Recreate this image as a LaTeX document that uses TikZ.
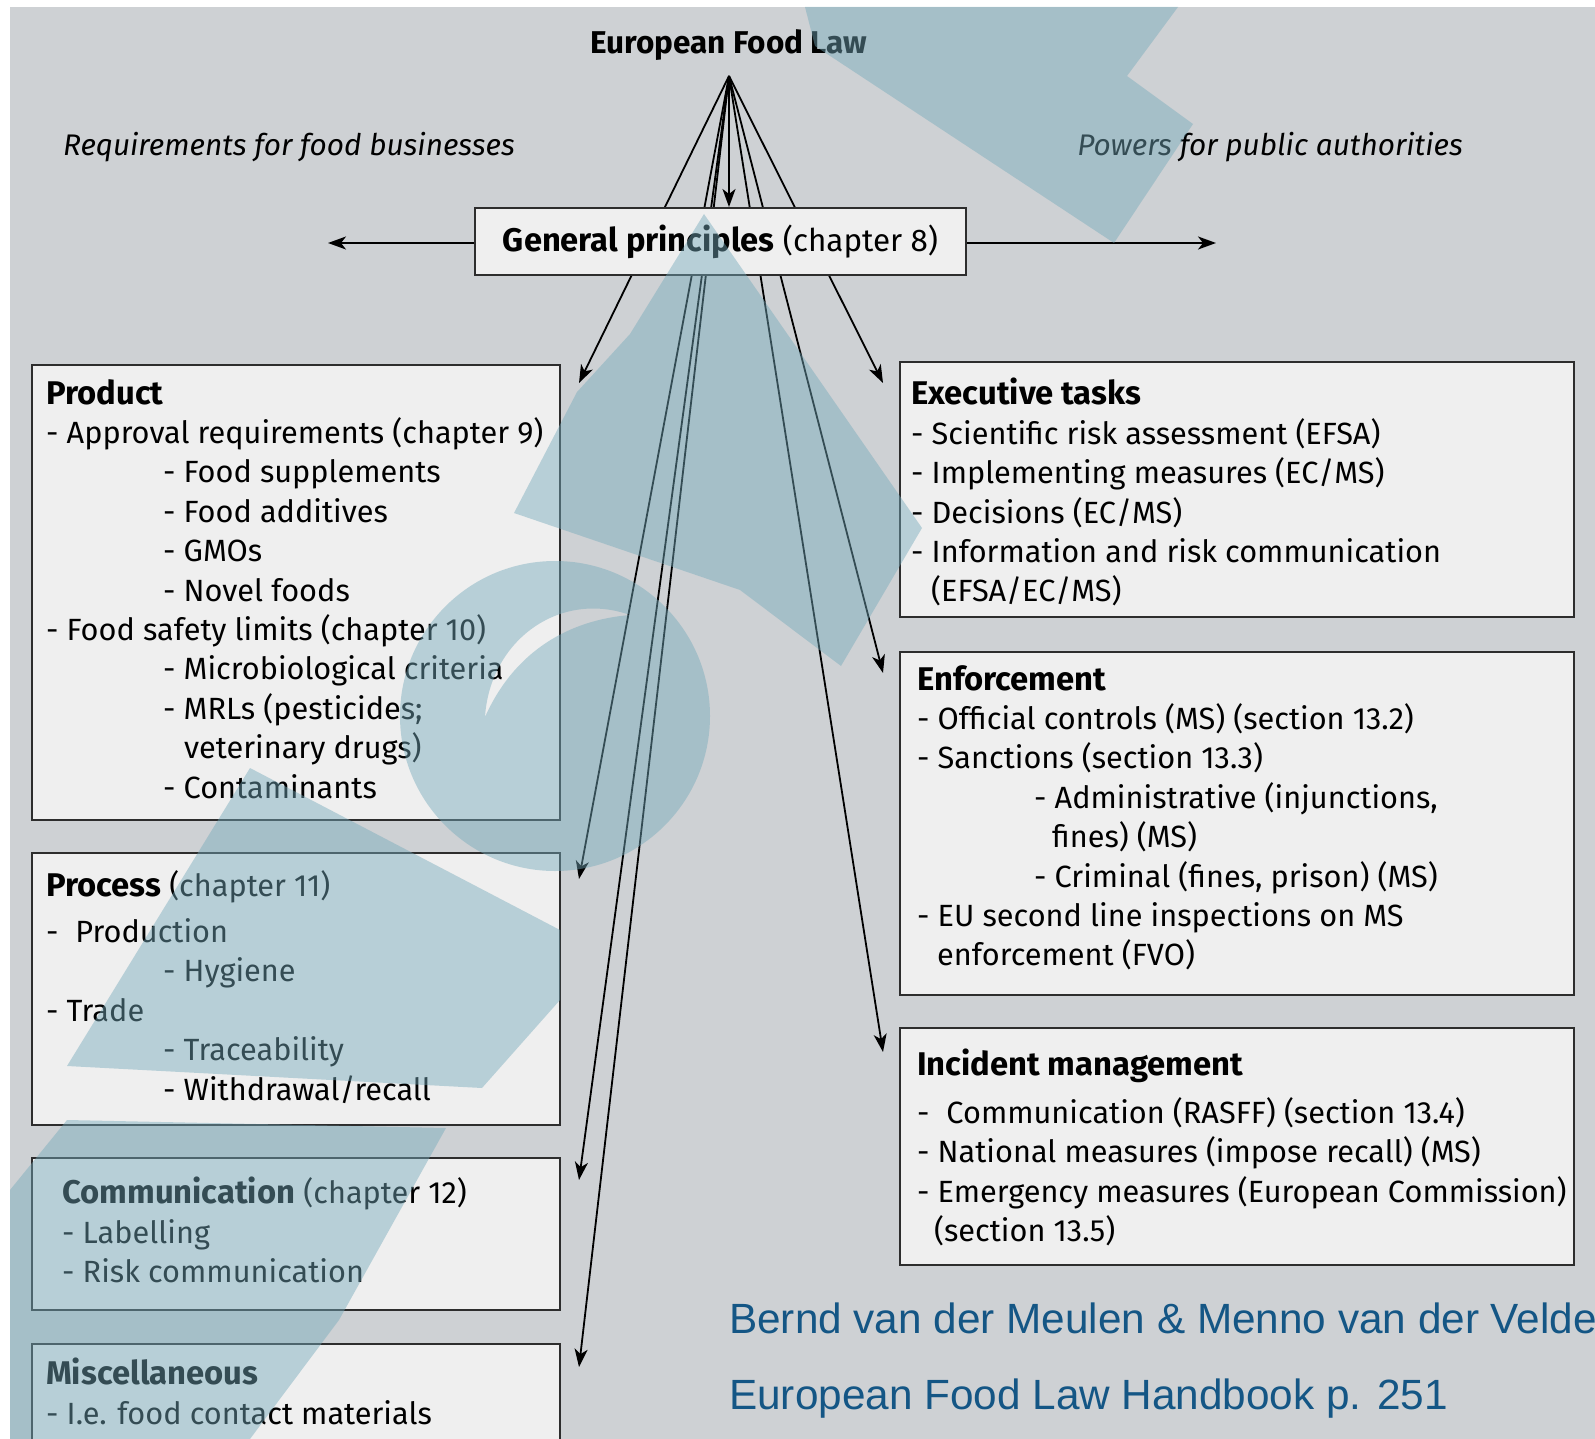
\documentclass[tikz,border=0pt]{standalone}
\usepackage{fontspec}
\setmainfont{Fira Sans}
\newfontfamily\footfont{Liberation Sans}
\usetikzlibrary{arrows.meta,calc}
\pgfdeclarelayer{bg}
\pgfdeclarelayer{lines}
\pgfsetlayers{bg,lines,main}
\definecolor{pagegray}{RGB}{206,209,212}
\definecolor{boxfill}{RGB}{239,239,239}
\definecolor{boxline}{RGB}{45,45,45}
\definecolor{footblue}{RGB}{20,86,133}
\definecolor{wm}{RGB}{117,170,187}
\newcommand\hb[1]{{\fontsize{32.8}{39.4}\selectfont\bfseries #1}}
\tikzset{
  panel/.style={draw=boxline, line width=2pt, fill=boxfill, anchor=north west, inner sep=0pt},
  body/.style={anchor=north west, align=left, inner sep=0pt, font=\fontsize{30.7}{39.4}\selectfont},
  conn/.style={line width=1.8pt, -{Stealth[length=18pt,width=13pt,inset=5pt]}},
  side/.style={font=\fontsize{29.8}{36}\selectfont\itshape, inner sep=0pt},
  foot/.style={font=\footfont\fontsize{42.3}{50}\selectfont, text=footblue, anchor=base west, inner sep=0pt},
}
\begin{document}
\begin{tikzpicture}[x=1pt,y=-1pt]
\useasboundingbox (0,0) rectangle (1595,1439);
\clip (0,0) rectangle (1595,1439);
\begin{pgfonlayer}{bg}
  \fill[white] (0,0) rectangle (1595,1439);
  \fill[pagegray] (10,7) rectangle (1595,1439);
\end{pgfonlayer}

% title and side labels
\node[font=\bfseries\fontsize{31.5}{36}\selectfont, inner sep=0pt] (title) at (729,45) {European Food Law};
\coordinate (apex) at (729,76);
\node[side] (req) at (289,147) {Requirements for food businesses};
\node[side] (pow) at (1270,147) {Powers for public authorities};

% general principles
\node[draw=boxline, line width=2pt, fill=boxfill, minimum width=491pt, minimum height=67pt, inner sep=0pt,
      font=\fontsize{31.4}{36}\selectfont] (gp) at (720.5,241.5) {{\fontsize{32.7}{36}\selectfont\bfseries General principles} (chapter 8)};
\coordinate (gpL) at (328,243);
\coordinate (gpR) at (1216,243);

% boxes
\node[panel, minimum width=528pt, minimum height=455pt] (product) at (31,364) {};
\node[panel, minimum width=528pt, minimum height=272pt] (process) at (31,852) {};
\node[panel, minimum width=528pt, minimum height=152pt] (comm) at (31,1157) {};
\node[panel, minimum width=528pt, minimum height=140pt] (misc) at (31,1343) {};
\node[panel, minimum width=674pt, minimum height=255pt] (exec) at (899,361) {};
\node[panel, minimum width=674pt, minimum height=343pt] (enf) at (899,651) {};
\node[panel, minimum width=674pt, minimum height=237pt] (inc) at (899,1027) {};

% box texts
\node[body] (productT) at (46,379) {\hb{Product}\\
- Approval requirements (chapter 9)\\
\hspace*{117pt}- Food supplements\\
\hspace*{117pt}- Food additives\\
\hspace*{117pt}- GMOs\\
\hspace*{117pt}- Novel foods\\
- Food safety limits (chapter 10)\\
\hspace*{117pt}- Microbiological criteria\\
\hspace*{117pt}- MRLs (pesticides;\\
\hspace*{138pt}veterinary drugs)\\
\hspace*{117pt}- Contaminants};

\node[body] (processT) at (46,870) {\hb{Process} (chapter 11)\\[7pt]
-\hspace{0.55em}Production\\
\hspace*{117pt}- Hygiene\\
- Trade\\
\hspace*{117pt}- Traceability\\
\hspace*{117pt}- Withdrawal/recall};

\node[body] (commT) at (62,1177) {\hb{Communication} (chapter 12)\\
- Labelling\\
- Risk communication};

\node[body] (miscT) at (46,1358) {\hb{Miscellaneous}\\
- I.e. food contact materials};

\node[body] (execT) at (911,378) {\hb{Executive tasks}\\
- Scientific risk assessment (EFSA)\\
- Implementing measures (EC/MS)\\
- Decisions (EC/MS)\\
- Information and risk communication\\
\hspace*{20pt}(EFSA/EC/MS)};

\node[body] (enfT) at (917,665) {\hb{Enforcement}\\
- Official controls (MS) (section 13.2)\\
- Sanctions (section 13.3)\\
\hspace*{117pt}- Administrative (injunctions,\\
\hspace*{135pt}fines) (MS)\\
\hspace*{117pt}- Criminal (fines, prison) (MS)\\
- EU second line inspections on MS\\
\hspace*{20pt}enforcement (FVO)};

\node[body] (incT) at (917,1049) {\hb{Incident management}\\[8pt]
-\hspace{0.55em}Communication (RASFF) (section 13.4)\\
- National measures (impose recall) (MS)\\
- Emergency measures (European Commission)\\
\hspace*{17pt}(section 13.5)};

% footer
\node[foot] (foot1) at (729,1333) {Bernd van der Meulen \& Menno van der Velde};
\node[foot] (foot2) at (729,1409) {European Food Law Handbook p. 251};

% arrow tips
\coordinate (tProd) at ([shift={(18,19)}]product.north east);
\coordinate (tProc) at ([shift={(18,27)}]process.north east);
\coordinate (tComm) at ([shift={(18,23)}]comm.north east);
\coordinate (tMisc) at ([shift={(18,24)}]misc.north east);
\coordinate (tExec) at ([shift={(-16,22)}]exec.north west);
\coordinate (tEnf) at ([shift={(-16,22)}]enf.north west);
\coordinate (tInc) at ([shift={(-16,25)}]inc.north west);

\begin{pgfonlayer}{lines}
  \draw[conn] (apex) -- (apex |- gp.north);
  \draw[conn] (apex) -- (tProd);
  \draw[conn] (apex) -- (tProc);
  \draw[conn] (apex) -- (tComm);
  \draw[conn] (apex) -- (tMisc);
  \draw[conn] (apex) -- (tExec);
  \draw[conn] (apex) -- (tEnf);
  \draw[conn] (apex) -- (tInc);
  \draw[conn] (gp.west |- gpL) -- (gpL);
  \draw[conn] (gp.east |- gpR) -- (gpR);
\end{pgfonlayer}

% translucent watermark
\begin{scope}[transparency group, opacity=0.45]
  \fill[wm] (805,7) -- (1178,7) -- (1127,76) -- (1193,124) -- (1114,243) -- (815,46) -- cycle;
  \fill[wm] (704,214) -- (922,528) -- (841,666) -- (740,590) -- (514,513) -- (577,392) -- (630,334) -- cycle;
  \fill[wm, even odd rule] (555,716) circle (155pt)
     (485,717) .. controls (490,640) and (560,590) .. (630,615) .. controls (570,620) and (515,650) .. (485,717) -- cycle;
  \fill[wm] (250,768) -- (560,930) -- (560,1000) -- (482,1088) -- (67,1066) -- cycle;
  \fill[wm] (10,1190) -- (67,1120) -- (446,1128) -- (339,1320) -- (250,1439) -- (10,1439) -- cycle;
\end{scope}
\end{tikzpicture}
\end{document}
